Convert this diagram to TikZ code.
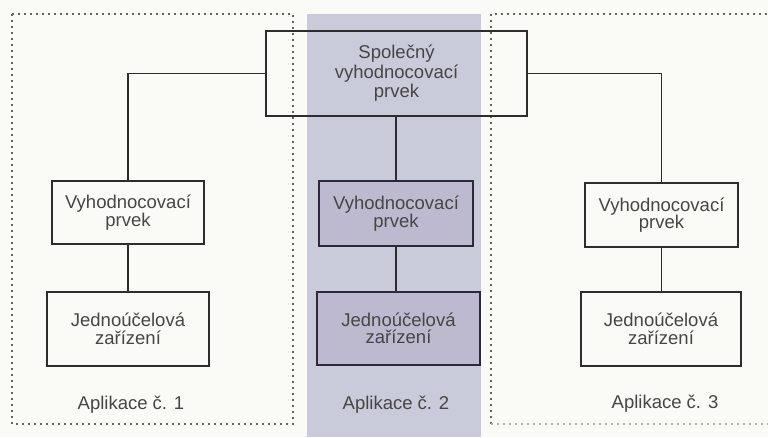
\documentclass[tikz,border=0pt]{standalone}
\usepackage{fontspec}
\setmainfont{Liberation Sans}
\definecolor{bgc}{RGB}{250,251,247}
\definecolor{bandc}{RGB}{201,202,218}
\definecolor{mboxc}{RGB}{189,185,206}
\definecolor{txtc}{RGB}{70,70,70}
\definecolor{linec}{RGB}{45,45,45}
\definecolor{mlinec}{RGB}{45,40,60}
\definecolor{dotc}{RGB}{100,100,100}
\begin{document}
\begin{tikzpicture}[x=1pt,y=-1pt,
  box/.style={draw=linec, line width=2pt, align=center, text=txtc,
    font=\fontsize{18.5}{17.5}\selectfont, inner sep=0pt},
  mbox/.style={box, fill=mboxc, draw=mlinec},
  conn/.style={draw=linec, line width=1.8pt},
  dotbox/.style={draw=dotc, line width=2pt, dash pattern=on 2pt off 4pt},
  lab/.style={text=txtc, font=\fontsize{18.5}{18.5}\selectfont, inner sep=0pt}]
\useasboundingbox (0,0) rectangle (768,437);
\fill[bgc] (0,0) rectangle (768,437);
\fill[bandc] (307,14) rectangle (481,437);
\draw[dotbox] (12,14) rectangle (293,424);
\draw[dotbox] (491,424) -- (491,14) -- (772,14);
\draw[dotbox, draw=dotc!50] (491,424) -- (772,424);

\node[box, minimum width=261pt, minimum height=85pt,
  font=\fontsize{18.5}{19.5}\selectfont] (T) at (396.5,73.5)
  {Společný\\vyhodnocovací\\prvek};

\node[box, minimum width=152pt, minimum height=63pt] (L1) at (128,212.5) {Vyhodnocovací\\prvek};
\node[box, minimum width=162pt, minimum height=74pt] (L2) at (128,329) {Jednoúčelová\\zařízení};
\node[mbox, minimum width=154pt, minimum height=65pt] (M1) at (396,213.5) {Vyhodnocovací\\prvek};
\node[mbox, minimum width=163pt, minimum height=73pt] (M2) at (398.5,328.5) {Jednoúčelová\\zařízení};
\node[box, minimum width=153pt, minimum height=64pt] (R1) at (661.5,215) {Vyhodnocovací\\prvek};
\node[box, minimum width=160pt, minimum height=74pt] (R2) at (661,329) {Jednoúčelová\\zařízení};

\node[lab] (A1) at (131,405) {Aplikace č. 1};
\node[lab] (A2) at (396,405) {Aplikace č. 2};
\node[lab] (A3) at (665,404) {Aplikace č. 3};

\draw[conn] (T.west) -| (L1.north);
\draw[conn] (T.east) -| (R1.north);
\draw[conn] (M1.north |- T.south) -- (M1.north);
\draw[conn] (L1.south) -- (L1.south |- L2.north);
\draw[conn] (M1.south) -- (M1.south |- M2.north);
\draw[conn] (R1.south) -- (R1.south |- R2.north);
\end{tikzpicture}
\end{document}
